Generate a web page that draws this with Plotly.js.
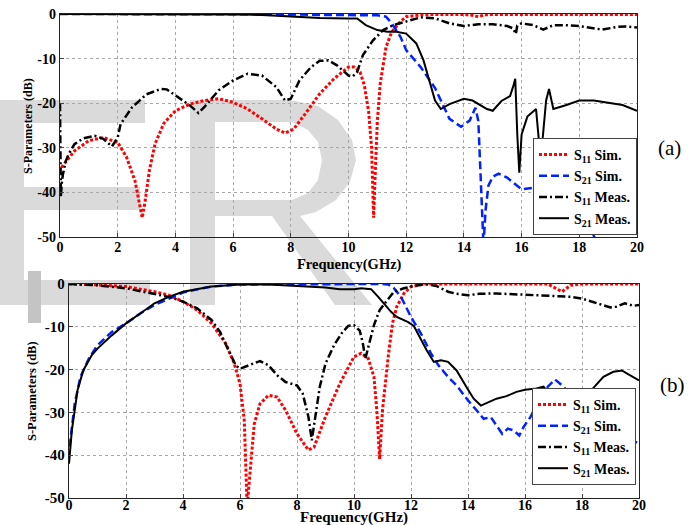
<!DOCTYPE html>
<html>
<head>
<meta charset="utf-8">
<script src="https://cdn.plot.ly/plotly-3.0.1.min.js"></script>
<style>html,body{margin:0;padding:0;background:#fff;}#chart{width:699px;height:525px;}</style>
</head>
<body>
<div id="chart"></div>
<script>
// ---------- (a) ----------
const a_s11sim_f  = [0.05,0.5,1,1.5,2,2.3,2.6,2.75,2.85,2.95,3.1,3.3,3.6,4,4.5,5,5.5,6,6.5,7,7.5,7.8,8.1,8.5,9,9.5,10,10.2,10.4,10.55,10.7,10.8,10.87,10.93,11.0,11.1,11.3,11.5,11.8,12,12.5,13,14,14.3,14.5,14.7,15,16,17,18,19,20];
const a_s11sim_db = [-34.4,-30.7,-28.4,-27.7,-28.8,-32,-37.4,-42,-45.7,-42,-35,-29,-24.5,-21.7,-20.2,-19.4,-19,-19.8,-21.3,-23.5,-25.8,-26.7,-25.8,-22.4,-17.9,-14.5,-11.9,-11.9,-13,-16,-22,-30,-45.7,-35,-24,-15.6,-7.4,-4,-1.7,-0.6,-0.2,-0.1,-0.1,-0.3,-0.6,-0.2,-0.1,-0.1,-0.1,-0.1,-0.1,-0.1];

const a_s21sim_f  = [0,2,4,6,8,9,10,10.5,11,11.3,11.5,11.8,12,12.5,13,13.5,13.9,14.2,14.4,14.5,14.6,14.68,14.75,14.85,15,15.2,15.5,16,16.4,17,17.5,18,18.4,18.7];
const a_s21sim_db = [0,0,0,0,-0.1,-0.2,-0.2,-0.2,-0.3,-0.6,-2.1,-5.1,-8.1,-11.9,-16.6,-23.5,-25.3,-23.9,-21,-24,-38,-52,-44,-38.5,-36.5,-35.8,-36.7,-39.3,-39,-37.5,-38.5,-43,-48,-53];

const a_s11meas_f  = [0,0.03,0.06,0.1,0.2,0.3,0.5,0.8,1.2,1.5,1.8,2,2.1,2.5,3,3.5,3.7,4,4.5,4.8,5,5.5,6,6.5,7,7.5,7.8,8,8.3,8.7,9,9.3,9.6,10,10.15,10.3,10.5,10.85,11.2,11.55,12,12.5,13,13.5,14,14.5,15,15.5,15.7,15.8,15.85,16,16.4,16.75,17.1,17.5,18,18.8,19.3,19.6,20];
const a_s11meas_db = [-20,-41,-38,-36,-33,-31.4,-29.2,-27.9,-27.3,-28,-29.7,-27.7,-24.7,-20.9,-18,-16.8,-16.9,-18.3,-20.5,-22.2,-20.9,-17.1,-14.9,-13.4,-13.8,-16.4,-19.4,-19,-14.9,-11.9,-10.5,-10.4,-11.5,-13.8,-14,-13,-9.2,-5.9,-3.6,-2.5,-1.7,-0.75,-1,-2.1,-2.7,-2.3,-2.3,-2.7,-3.2,-4.5,-2.6,-2.1,-2.5,-3.5,-2.5,-2.5,-2.7,-3.5,-2.9,-2.8,-3];

const a_s21meas_f  = [0,2,4,6,7,8,9,10,10.3,10.6,11,11.35,11.65,12,12.35,12.6,12.8,13,13.2,13.5,14,14.3,14.8,15,15.3,15.6,15.72,15.78,15.85,15.92,16,16.2,16.5,16.6,16.7,16.85,16.95,17.1,17.5,18,18.5,18.9,19.5,20];
const a_s21meas_db = [0,0,0,-0.1,-0.2,-0.5,-0.9,-1,-1,-2.5,-3.6,-4,-4,-4.4,-6.6,-10.4,-14.9,-19.4,-21.3,-20.2,-19,-19.4,-21.3,-21.7,-19.5,-18.4,-16,-14.5,-26.9,-35.6,-27,-23,-21.3,-28.4,-30,-19.4,-16.8,-21.3,-20.5,-19.4,-19.4,-19.8,-20.4,-21.7];

// ---------- (b) ----------
const b_s11sim_f  = [0,1,2,3,3.5,4,4.5,5,5.5,5.8,6,6.15,6.25,6.35,6.5,6.7,7,7.3,7.6,8,8.4,8.6,9,9.5,10,10.25,10.5,10.7,10.8,10.9,11.0,11.2,11.35,11.5,11.75,12,12.5,16.8,17.1,17.3,17.6,18,20];
const b_s11sim_db = [0,-0.2,-0.6,-1.8,-2.6,-4.1,-6.1,-9.2,-13.9,-18.6,-23.3,-31.9,-52,-43.6,-32.7,-28,-26,-26.4,-29.5,-35,-38.8,-38.1,-31,-23.3,-17,-16.2,-17.4,-21.7,-29.5,-40.9,-29.5,-17,-9.2,-5.3,-2.2,-0.6,0,0,-1,-1.8,-0.3,0,0];

const b_s21sim_f  = [0.02,0.2,0.4,0.7,1,1.5,2,2.5,3,3.5,4,4.5,5,6,8,10,11,11.2,11.4,11.65,11.9,12,12.35,12.7,12.95,13.3,13.6,14,14.3,14.55,14.8,15,15.2,15.4,15.6,15.8,15.95,16.2,16.5,16.8,17.05,17.3,17.7,17.9,18.3,19,19.6,20];
const b_s21sim_db = [-38,-28,-21.7,-17.4,-14.3,-11.2,-9.2,-6.9,-4.9,-3.4,-2,-1.25,-0.6,-0.1,0,0,0,-0.1,-1,-3,-6.1,-7.7,-11.6,-16.2,-18.9,-21.7,-23.7,-27.2,-29.5,-31.5,-31.1,-33,-35,-33.8,-34.2,-35.4,-33.4,-31,-27.2,-24,-22.3,-23.7,-26.4,-28,-30,-33,-36,-37.3];

const b_s11meas_f  = [0,1,2,3,3.5,4,4.5,5,5.3,5.6,5.85,6,6.3,6.7,7,7.3,7.6,8,8.2,8.4,8.52,8.65,8.8,9,9.3,9.6,9.8,10,10.2,10.3,10.4,10.55,10.7,10.9,11.2,11.4,11.75,12,12.5,12.9,13.3,13.6,14,14.4,15,15.6,16,16.5,17,17.6,18,18.5,19,19.2,19.5,19.8,20];
const b_s11meas_db = [0,-0.3,-1,-2.3,-3,-4.1,-5.7,-8.4,-11.2,-15.5,-19,-19.8,-19,-18,-19,-21.3,-22.9,-23.7,-25.6,-31,-36.5,-31,-24,-18.6,-14.3,-11.2,-9.8,-9.6,-10.9,-13.5,-17.4,-13.5,-9.6,-6.1,-3.4,-1.8,-1,-0.6,0,-0.5,-1.8,-2.3,-2.6,-2.3,-2.2,-2.4,-2.4,-2.6,-2.8,-3,-3.4,-4.5,-5.5,-5.3,-4.5,-5.1,-4.9];

const b_s21meas_f  = [0,0.1,0.3,0.5,0.8,1,1.5,2,2.5,3,3.5,4,5,6,7,8,9,9.5,10,10.25,10.6,10.85,11.1,11.3,11.5,11.9,12.1,12.35,12.55,12.8,13.05,13.3,13.6,13.95,14.2,14.45,14.75,15,15.35,15.7,16,16.4,16.65,16.75,17.15,17.5,17.8,18,18.3,18.75,19.1,19.4,19.6,20];
const b_s21meas_db = [-42,-34.2,-24.8,-20.2,-16.6,-15.1,-12,-9.2,-6.9,-4.5,-3,-1.8,-0.6,-0.1,-0.1,-0.5,-0.8,-1.25,-1.25,-1,-1.2,-3,-4.9,-6.5,-7.7,-8.9,-9.8,-13.1,-15.5,-18.2,-17.8,-18.2,-20.2,-24.1,-26.8,-28.4,-27.6,-26.8,-26.2,-25.2,-24.7,-24.4,-24,-24.8,-28,-31,-31,-28,-25,-21.7,-20.5,-20.2,-21,-22.5];

const seriesNames = ['<b>S<sub>11</sub> Sim.</b>','<b>S<sub>21</sub> Sim.</b>','<b>S<sub>11</sub> Meas.</b>','<b>S<sub>21</sub> Meas.</b>'];
const xTicks = [0,2,4,6,8,10,12,14,16,18,20];
const yTicks = [-50,-40,-30,-20,-10,0];
const xTitle = 'Frequency(GHz)';
const yTitle = 'S-Parameters (dB)';
const panelLabels = ['(a)','(b)'];

// ---------- styles ----------
const W = 699, H = 525;
const SERIF = '"Liberation Serif", "Times New Roman", serif';
const styles = [
  {color:'#ff0000', width:3, dash:'3px,2px'},
  {color:'#0022ff', width:2.5, dash:'8px,4px'},
  {color:'#000000', width:2.5, dash:'8px,3px,2px,3px'},
  {color:'#000000', width:2, dash:'solid'}
];
const A = [[a_s11sim_f,a_s11sim_db],[a_s21sim_f,a_s21sim_db],[a_s11meas_f,a_s11meas_db],[a_s21meas_f,a_s21meas_db]];
const B = [[b_s11sim_f,b_s11sim_db],[b_s21sim_f,b_s21sim_db],[b_s11meas_f,b_s11meas_db],[b_s21meas_f,b_s21meas_db]];

const traces = [];
A.forEach((s,i)=>traces.push({x:s[0],y:s[1],name:seriesNames[i],mode:'lines',line:styles[i],xaxis:'x',yaxis:'y',legend:'legend'}));
B.forEach((s,i)=>traces.push({x:s[0],y:s[1],name:seriesNames[i],mode:'lines',line:styles[i],xaxis:'x2',yaxis:'y2',legend:'legend2'}));

const px = (x)=>x/W, py = (y)=>1-y/H;
function rect(x0,y0,x1,y1,c){return {type:'rect',xref:'paper',yref:'paper',x0:px(x0),x1:px(x1),y0:py(y1),y1:py(y0),fillcolor:c,line:{width:0},layer:'below'};}
function poly(pts,c){return {type:'path',xref:'paper',yref:'paper',path:'M'+pts.map(p=>px(p[0])+','+py(p[1])).join(' L')+' Z',fillcolor:c,line:{width:0},layer:'below'};}
const WM = '#dadada';
const shapes = [
  rect(0,100,24,305,WM),
  rect(0,100,145,123,WM),
  rect(24,187,140,210,WM),
  rect(0,280,150,305,WM),
  rect(28,271,41,323,'#c4c4c4'),
  rect(190,100,215,305,WM),
  poly([[215,100],[290,100],[318,106],[338,120],[352,140],[356,160],[350,182],[336,200],[316,212],[300,216],[372,305],[335,305],[272,216],[215,216],[215,200],[292,200],[308,193],[318,180],[322,160],[318,142],[308,130],[292,122],[215,122]],WM)
];

const bold = (v)=>'<b>'+v+'</b>';
function xax(dom, anchor, fs, so){
  return {domain:dom, anchor:anchor, range:[0,20], tickvals:xTicks, ticktext:xTicks.map(bold), ticks:'inside', ticklen:4, tickcolor:'#444',
    showline:true, linecolor:'#222', linewidth:1.2, mirror:true, showgrid:true, gridcolor:'#a8a8a8', griddash:'dot', gridwidth:1,
    zeroline:false, ticklabelstandoff:so, tickfont:{family:SERIF, size:fs, color:'#000'}};
}
function yax(dom, anchor, fs){
  return {domain:dom, anchor:anchor, range:[-50,0], tickvals:yTicks, ticktext:yTicks.map(bold), ticks:'inside', ticklen:4, tickcolor:'#444',
    showline:true, linecolor:'#222', linewidth:1.2, mirror:true, showgrid:true, gridcolor:'#a8a8a8', griddash:'dot', gridwidth:1,
    zeroline:false, tickfont:{family:SERIF, size:fs, color:'#000'}};
}
function ann(text,x,y,size,angle,bolded){
  return {text: bolded ? bold(text) : text, xref:'paper', yref:'paper', x:px(x), y:py(y), xanchor:'center', yanchor:'middle',
    showarrow:false, textangle:angle||0, font:{family:SERIF, size:size, color:'#000'}};
}

const layout = {
  width:W, height:H, margin:{l:0,r:0,t:0,b:0}, paper_bgcolor:'#ffffff', plot_bgcolor:'rgba(0,0,0,0)', showlegend:true,
  xaxis: xax([px(60),px(637)], 'y', 14, -3),
  yaxis: yax([py(237),py(14)], 'x', 14),
  xaxis2: xax([px(69),px(639)], 'y2', 14, -6),
  yaxis2: yax([py(498),py(284)], 'x2', 15),
  legend: {x:px(637), y:py(235), xanchor:'right', yanchor:'bottom', bgcolor:'#ffffff', bordercolor:'#444', borderwidth:1,
    font:{family:SERIF, size:14, color:'#000'}, tracegroupgap:0, itemwidth:30},
  legend2: {x:px(636), y:py(485), xanchor:'right', yanchor:'bottom', bgcolor:'#ffffff', bordercolor:'#444', borderwidth:1,
    font:{family:SERIF, size:14, color:'#000'}, tracegroupgap:0, itemwidth:30},
  shapes: shapes,
  annotations: [
    ann(xTitle, 349, 264, 14.5, 0, true),
    ann(xTitle, 354, 517.5, 15, 0, true),
    ann(yTitle, 28, 126, 12, -90, true),
    ann(yTitle, 32, 391, 12.5, -90, true),
    ann(panelLabels[0], 669, 148, 21, 0, false),
    ann(panelLabels[1], 672, 385, 21, 0, false)
  ]
};
Plotly.newPlot('chart', traces, layout, {staticPlot:true, displayModeBar:false});
</script>
</body>
</html>
